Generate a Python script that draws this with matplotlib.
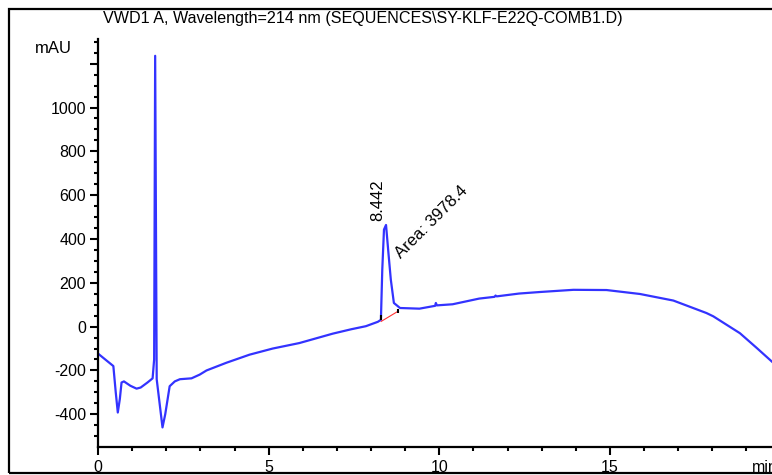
import matplotlib
matplotlib.use("Agg")
import matplotlib.pyplot as plt
from matplotlib.patches import Rectangle
from matplotlib.ticker import MultipleLocator, FixedLocator, FixedFormatter

plt.rcParams['font.family'] = ['Liberation Sans', 'DejaVu Sans']

title = "VWD1 A, Wavelength=214 nm (SEQUENCES\\SY-KLF-E22Q-COMB1.D)"

time_min = [0.0, 0.45, 0.52, 0.58, 0.64, 0.69, 0.76, 0.95, 1.13, 1.25, 1.45, 1.60,
            1.645, 1.675, 1.72, 1.89, 1.97, 2.10, 2.25, 2.40, 2.74, 2.98, 3.18,
            3.76, 4.44, 5.12, 5.90, 6.88, 7.42, 7.85, 8.20, 8.29, 8.33, 8.38, 8.44,
            8.51, 8.58, 8.67, 8.85, 9.42, 9.88, 9.90, 9.93, 10.39, 11.17, 11.62,
            11.65, 11.68, 12.34, 12.95, 13.93, 14.90, 15.88, 16.86, 17.83, 18.03,
            18.81, 19.30, 19.75]
signal_mau = [-123, -180, -300, -392, -330, -255, -250, -270, -283, -278, -255, -236,
              -150, 1236, -240, -460, -400, -272, -250, -240, -236, -219, -200,
              -165, -128, -100, -75, -32, -12, 2, 22, 31, 260, 443, 464,
              337, 215, 108, 85, 82, 95, 108, 97, 102, 128, 136,
              142, 138, 151, 158, 168, 167, 149, 119, 62, 47,
              -30, -97, -160]

peak_rt = 8.442
peak_area = 3978.4
baseline_t = [8.30, 8.79]
baseline_v = [24, 70]

y_major = [-400, -200, 0, 200, 400, 600, 800, 1000, 1200]
y_labels = ["-400", "-200", "0", "200", "400", "600", "800", "1000", ""]
x_major = [0, 5, 10, 15]
x_labels = ["0", "5", "10", "15"]

W, H = 772, 475
fig = plt.figure(figsize=(W / 100, H / 100), dpi=100)
ax = fig.add_axes([98 / W, 1 - 446.7 / H, 1 - 98 / W, (446.7 - 38.5) / H])

ax.plot(time_min, signal_mau, color='#3333ff', lw=1.6, solid_joinstyle='round')
ax.plot(baseline_t, baseline_v, color='#ff3333', lw=0.8)
ax.vlines(baseline_t, [baseline_v[0] + 6, baseline_v[1] - 8],
          [baseline_v[0] + 28, baseline_v[1] + 10], color='black', lw=1.5)

ax.set_xlim(0, 19.75)
ax.set_ylim(-548, 1315)

for s in ['top', 'right']:
    ax.spines[s].set_visible(False)
for s in ['left', 'bottom']:
    ax.spines[s].set_linewidth(1.6)

ax.xaxis.set_major_locator(FixedLocator(x_major))
ax.xaxis.set_major_formatter(FixedFormatter(x_labels))
ax.xaxis.set_minor_locator(MultipleLocator(1))
ax.yaxis.set_major_locator(FixedLocator(y_major))
ax.yaxis.set_major_formatter(FixedFormatter(y_labels))
ax.yaxis.set_minor_locator(MultipleLocator(50))

ax.tick_params(axis='x', which='major', length=5.5, width=1.5, pad=4, labelsize=11.5)
ax.tick_params(axis='x', which='minor', length=3, width=1.5)
ax.tick_params(axis='y', which='major', length=6, width=1.5, pad=2.5, labelsize=11.5)
ax.tick_params(axis='y', which='minor', length=3, width=1.5)

ax.annotate("mAU", xy=(0, 1), xycoords='axes fraction', xytext=(-19, -7),
            textcoords='offset points', ha='right', va='center', fontsize=12)
ax.annotate("min", xy=(19.16, 0), xycoords=('data', 'axes fraction'), xytext=(0, -9.5),
            textcoords='offset points', ha='left', va='top', fontsize=11.5,
            annotation_clip=False)

ax.text(8.2, 480, f"{peak_rt:.3f}", rotation=90, ha='center', va='bottom', fontsize=12)
ax.text(8.95, 300, f"Area: {peak_area}", rotation=45, ha='left', va='bottom',
        fontsize=12, rotation_mode='anchor')

fig.text(103 / W, 1 - 19 / H, title, ha='left', va='center', fontsize=11.6)

fig.patches.append(Rectangle((9 / W, 1 - 473 / H), 1.2, (473 - 9) / H,
                             transform=fig.transFigure, fill=False,
                             edgecolor='black', lw=1.6, figure=fig))

fig.savefig("out.png", dpi=100)
